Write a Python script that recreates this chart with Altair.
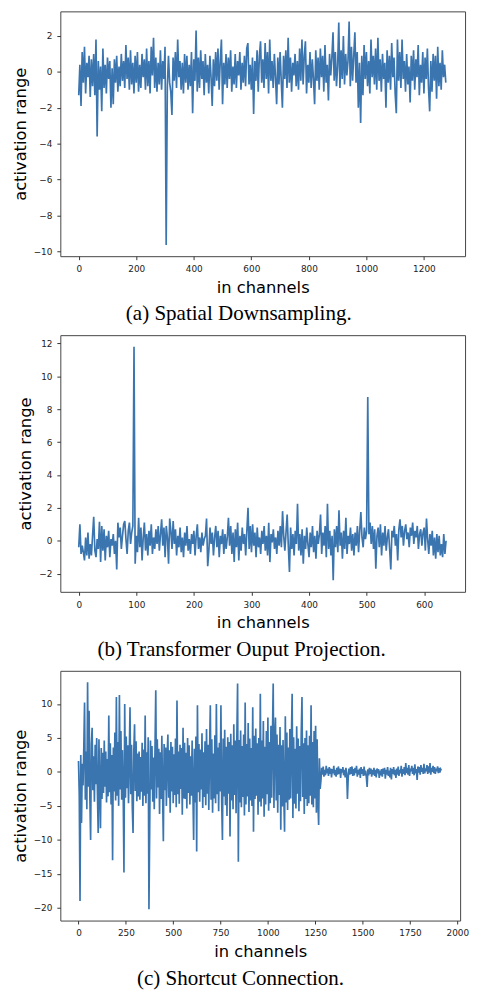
import altair as alt
import pandas as pd

LINE = "#3b75af"

# (a) Spatial Downsampling: one value every 4 channels (0..1276)
a_step = 4
a_vals = [
    -1.3, 0.4, -1.9, 1.1, -0.6, 1.4, -1.2, 0.5, -0.3, 0.9,
    -1.4, 0.7, -0.8, 1.0, -1.3, 1.8, -3.6, 0.6, -1.0, 0.3,
    -2.2, 1.3, -0.9, 0.4, -1.2, 0.8, -0.4, 0.6, -2.0, 0.2,
    -1.8, 0.7, -0.6, 0.9, -1.1, 0.3, -0.8, 1.0, -0.5, 0.6,
    -0.9, 1.5, -0.4, 0.8, -1.0, 1.2, -0.7, 0.5, -1.2, 0.9,
    -0.6, 1.1, -1.1, 0.4, -0.9, 1.0, -0.3, 0.7, -1.0, 1.3,
    -0.8, 0.6, -1.2, 1.4, -0.2, 1.9, -0.9, 0.8, -1.1, 0.5,
    -0.7, 1.2, -1.0, 0.6, -0.4, 1.4, -9.65, -0.8, 0.9, -0.6,
    -1.1, -2.4, 0.8, -0.5, 1.1, -0.9, 1.8, -0.3, 0.6, -1.0,
    0.5, -1.2, 1.0, -0.6, 0.9, -1.0, 0.4, -0.8, 1.1, -2.3,
    0.7, -0.5, 2.3, -1.1, 0.8, -0.9, 1.2, -0.4, 0.6, -1.3,
    1.0, -0.6, 0.4, -1.2, 0.9, -0.3, -1.9, 0.7, -0.8, 1.1,
    -0.5, 1.3, -1.0, 0.6, 1.8, -1.8, 0.5, -0.7, 1.0, -0.9,
    0.8, -0.4, 1.2, -1.1, 0.3, -0.7, 1.0, -0.9, 0.6, -0.2,
    1.1, -1.0, 0.5, -0.6, 0.9, -0.8, 1.3, 1.6, -0.7, 0.4,
    -1.0, 0.8, -2.35, 0.6, -0.5, 1.2, -1.1, 0.9, 1.7, -0.6,
    0.7, -0.9, 1.6, -0.4, 1.1, -1.2, 1.8, -0.5, 0.6, -0.9,
    1.0, -0.3, -1.8, 0.8, -0.7, 1.1, -0.5, -2.0, 0.9, -0.4,
    1.2, -0.9, 1.9, -0.6, 0.8, -1.1, 0.5, -0.2, 1.0, -0.8,
    0.6, -1.0, 1.3, -0.5, 1.8, -0.7, 0.9, 1.7, -1.2, 0.4,
    -0.6, 1.1, -0.9, 0.7, -0.4, -1.8, 1.2, -0.5, 0.8, -1.0,
    1.3, -0.3, 0.9, -1.1, 1.5, -0.6, 0.4, -1.6, 1.0, -0.2,
    0.8, 2.2, -0.5, 1.1, -0.8, 0.3, 2.75, -0.9, 1.2, -0.4,
    2.0, -0.7, 1.0, -0.2, 0.6, 2.8, -0.8, 1.4, -0.5, 0.9,
    2.2, -0.6, 1.1, -2.0, 0.5, -2.85, 0.9, -1.3, 1.5, -0.4,
    1.1, -0.8, 0.6, -1.2, 1.8, -0.3, 0.9, -0.7, 1.3, -1.0,
    1.9, -0.5, 0.7, -1.1, 1.0, -0.4, 0.5, -2.0, 1.2, -0.6,
    0.9, -1.0, 1.6, -0.3, 0.8, -1.2, -2.3, 1.8, -0.5, 1.1,
    -0.9, 1.8, -0.4, 0.6, -1.1, 1.0, -0.7, 0.3, -1.7, 0.9,
    -0.5, 1.2, -1.0, 0.7, -0.3, 1.5, -1.3, 0.4, -0.6, 1.1,
    -1.2, 0.8, -0.4, 1.3, -0.9, -2.2, 0.6, -1.1, 1.0, -0.5,
    0.9, -1.5, 1.4, -0.8, 0.5, -1.0, 1.2, -0.3, 0.4, -0.6,
]

# (b) Transformer Output Projection: one value every 2 channels (0..638)
b_step = 2
b_vals = [
    -0.4, 1.0, -0.8, -0.3, -0.7, -1.2, 0.2, -0.9, 0.5, -1.1,
    -0.2, -0.9, 0.3, 1.45, -0.6, -1.0, 0.1, -0.5, 1.15, -1.3,
    0.9, -0.6, 0.7, -1.2, 0.3, -0.4, 0.6, -1.0, 0.1, -0.3,
    0.4, -0.8, 0.0, -1.75, 1.1, 0.2, 0.8, -0.5, 0.3, 1.0,
    1.2, 0.1, -0.8, 0.6, 1.1, -0.2, 0.5, 0.9, 11.8, -1.4,
    0.3, -0.7, 1.4, -0.4, 0.8, -1.2, 0.2, 1.1, -0.6, 0.4,
    -0.9, 0.6, -0.3, 1.0, -0.8, 0.2, -0.5, 0.7, -0.2, 0.9,
    -0.6, 0.4, 1.3, -0.3, 0.8, -1.0, 0.9, 0.2, -1.4, 1.35,
    0.6, -0.5, 1.2, -0.2, 0.7, -0.9, 0.3, -0.4, 0.8, -0.7,
    0.2, -1.0, 0.5, -0.3, 0.9, -0.6, 0.1, -0.8, 0.4, -0.2,
    0.6, -0.9, 0.3, 1.0, -0.5, 0.2, -0.7, 0.5, -0.3, 0.1,
    0.3, 1.35, -1.55, -0.6, 0.8, -0.2, 0.5, -0.9, 0.2, 0.9,
    -0.4, 0.6, -1.0, 0.3, -0.2, 0.7, -0.8, 0.4, -0.5, 0.2,
    1.4, -0.3, 0.9, -0.8, 0.5, -1.3, 0.7, -0.4, 1.1, -1.2,
    0.3, -0.6, 0.8, -0.2, 0.4, -0.9, 0.6, 2.0, -0.5, 0.9,
    -0.7, 1.0, -0.3, 0.5, -1.0, 0.8, -0.4, 0.2, -0.8, 0.6,
    -0.2, 0.9, -0.6, 0.3, -0.9, 1.1, -1.3, 0.4, -0.1, 0.7,
    -0.5, 0.2, -0.8, 0.6, -0.3, 0.9, -0.4, 1.8, 0.3, -0.6,
    0.5, 1.6, -0.3, -1.9, 0.8, -0.5, 0.4, -0.9, 0.6, -0.2,
    2.25, -0.6, 0.4, -0.9, 0.7, -1.4, 0.3, -0.5, 0.8, -0.2,
    -1.0, 0.5, -0.4, 0.9, -0.7, 0.3, -1.1, 0.6, -0.2, 0.4,
    1.6, -0.8, 0.5, -0.3, 0.9, -1.0, 2.25, -0.5, 0.6, -0.9,
    0.3, -2.4, 0.7, -0.4, 0.9, -0.7, 1.85, -0.3, 0.5, -1.1,
    0.6, -0.5, 1.4, -0.8, 0.3, -0.2, 0.8, -0.6, 0.4, -0.9,
    0.5, -0.3, 0.9, -0.7, 0.6, 1.75, 0.2, -0.4, 0.8, 0.1,
    0.6, 8.75, 0.4, 1.1, -0.2, 0.9, -0.5, 0.7, -1.7, 0.3,
    0.8, -0.4, 1.0, -0.9, 0.5, -0.3, 0.9, -0.6, 0.2, 0.7,
    -0.5, -1.75, 0.6, 0.2, 0.9, -0.3, 0.4, -1.2, 0.7, 1.3,
    0.2, 0.9, -0.3, 0.6, 1.0, 0.1, 0.5, -0.4, 0.8, 0.3,
    1.1, -0.2, 0.6, 0.2, 0.9, -0.5, 0.4, 0.7, -0.3, 0.5,
    0.8, -0.6, 1.35, 0.1, -0.8, 0.4, -0.3, 0.6, -0.9, 0.2,
    -1.1, 0.4, -0.7, 0.3, -0.9, -0.2, -1.0, 0.4, -0.8, 0.0,
]

# (c) Shortcut Connection: one value every 4 channels (0..1916)
c_step = 4
c_vals = [
    1.6, -3.4, -19.0, 2.5, -7.5, 1.2, -2.0, 3.6, 10.2, -4.1,
    3.0, -5.5, 13.2, -2.2, 9.0, -3.8, -10.0, 4.1, 6.5, -2.7,
    2.3, -4.4, 4.0, -1.8, 5.0, -3.2, -9.0, 4.8, -2.5, -8.3,
    3.5, -4.0, 2.8, -3.1, 4.6, -2.2, 3.0, -4.5, 1.9, -3.6,
    8.3, -3.0, 4.2, -4.8, 2.5, -13.0, 3.6, -2.9, 5.8, -4.2,
    11.0, -3.5, 4.4, -5.0, 11.3, -2.6, 6.0, -4.1, 3.2, -3.0,
    -14.8, 10.0, -3.8, 5.2, -2.4, 3.9, -4.6, 2.2, 9.5, -3.3,
    4.0, -5.2, -9.0, 3.1, 7.0, -2.8, 4.5, -4.3, 2.7, -3.6,
    3.0, -4.1, 2.2, -2.9, 4.3, -5.0, 3.3, -3.5, 8.3, -4.6,
    2.9, -3.2, 5.1, -20.2, -8.0, 4.6, -2.6, 3.8, -4.4, 2.1,
    -5.5, 3.6, 12.0, -3.9, 4.8, -2.3, 3.4, -6.2, 2.9, -4.0,
    5.3, -3.1, -10.2, 4.1, -2.7, 3.6, -5.0, 2.4, 5.5, -3.8,
    3.2, -6.0, 4.4, -2.9, 3.7, -4.6, 2.6, -3.4, 4.9, -5.2,
    10.5, -3.3, 3.0, -4.7, 4.0, -2.5, 3.5, -6.3, 6.5, -3.9,
    4.3, -4.0, 2.8, -5.4, 5.0, -3.1, 3.9, -4.8, 2.3, -3.5,
    4.6, -2.8, -10.0, 3.4, -4.5, 5.2, -11.7, 9.8, -3.0, 4.1,
    -4.4, 3.3, -2.6, 5.7, -5.3, 2.9, -3.7, 4.5, -4.9, 6.3,
    -3.2, 4.0, -5.6, 3.1, 9.8, -4.1, 4.8, -6.0, 2.7, -3.9,
    5.4, -4.6, 10.0, -3.3, 3.6, -5.8, 4.3, -2.9, 9.8, -4.4,
    -10.0, 4.9, -3.6, 6.2, -4.9, 3.7, -6.5, 5.1, -3.2, 4.4,
    -9.5, 5.6, -4.2, 3.9, -5.5, 7.0, -3.4, 4.6, -6.1, 5.0,
    13.0, -13.2, 4.7, -4.5, 6.1, -5.2, 3.8, -3.7, 5.5, -6.4,
    10.2, -4.8, 4.1, -3.6, 7.2, -5.9, 4.9, -4.2, 3.5, -5.0,
    9.5, -8.8, 5.3, -4.0, 6.4, -3.5, 4.2, -6.3, 5.0, -4.4,
    11.5, -5.1, 4.6, -3.9, 7.5, -6.6, 3.7, -4.8, 6.0, -3.3,
    8.0, -5.7, 4.4, -4.6, 6.8, -3.8, 5.2, 13.0, -5.3, 4.9,
    8.0, -4.2, 5.5, -6.0, 4.0, -3.4, 6.6, -8.5, 3.9, -5.1,
    4.7, -3.6, -8.8, 8.2, -4.5, 5.8, -5.6, 3.6, -4.1, 6.3,
    -3.9, 4.5, 11.5, -6.8, 5.1, -4.7, 3.4, -5.4, 6.7, -3.2,
    4.9, -5.8, 3.8, -4.3, 5.6, 11.0, -3.7, 4.2, -6.2, 5.0,
    -4.0, 6.1, -5.0, 3.9, -4.6, 5.3, -3.5, 9.8, -4.8, 4.4,
    -5.2, 6.0, -3.9, 6.8, -6.0, 4.8, -4.3, -7.8, 2.0, -2.5,
    -1.3, 0.6, -0.4, 0.8, -0.7, 0.3, -0.5, 0.9, -0.2, 0.5,
    -0.6, 0.7, -0.3, 0.5, -0.8, 0.4, -0.2, 0.9, -0.5, 0.3,
    -0.7, 0.6, -0.4, 0.8, -0.3, 0.5, -0.9, 0.4, -0.1, 0.7,
    -0.5, 0.3, -0.8, 0.6, -0.2, -4.0, -0.9, 0.5, -0.4, 0.7,
    -0.3, 0.8, -0.6, 0.4, -0.5, 0.6, -0.2, 0.9, -0.7, 0.3,
    -0.4, 0.5, -0.9, 0.7, -0.3, 0.4, -0.6, 0.8, -0.5, 0.2,
    -0.8, -2.2, 0.4, -0.5, 0.6, -0.3, 0.5, -0.7, 0.3, -0.4,
    0.6, -0.6, 0.3, -0.8, 0.5, -0.2, 0.4, -0.9, 0.2, -0.5,
    0.4, -0.7, 0.5, -0.3, 0.6, -1.0, 0.3, -0.4, 0.7, -0.6,
    0.2, -0.8, 0.6, -1.1, 0.4, -0.3, 0.7, -0.5, 0.3, -0.9,
    0.5, -0.4, 0.8, -0.6, 0.3, -0.2, 0.9, -0.7, 0.4, -0.3,
    0.7, -0.5, 1.3, -0.2, 0.6, -0.4, 1.0, -0.6, 0.5, 0.1,
    0.9, -0.3, 0.6, -0.5, 1.1, -0.2, 0.4, -1.2, 0.8, -0.1,
    0.7, -0.4, 1.0, 0.0, 0.6, -0.3, 1.2, -0.2, 0.5, 0.1,
    1.0, -0.3, 0.8, -0.1, 1.3, -0.4, 0.6, 0.0, 0.9, -0.2,
    0.7, -0.3, 0.5, 0.1, 0.8, -0.2, 0.6, -0.1, 0.4, 0.2,
]

a_xticks = [0, 200, 400, 600, 800, 1000, 1200]
a_yticks = [-10, -8, -6, -4, -2, 0, 2]
b_xticks = [0, 100, 200, 300, 400, 500, 600]
b_yticks = [-2, 0, 2, 4, 6, 8, 10, 12]
c_xticks = [0, 250, 500, 750, 1000, 1250, 1500, 1750, 2000]
c_yticks = [-20, -15, -10, -5, 0, 5, 10]

captions = ["(a) Spatial Downsampling.", "(b) Transformer Ouput Projection.", "(c) Shortcut Connection."]


def panel(vals, step, xdom, ydom, xticks, yticks, w, h, caption):
    df = pd.DataFrame({"ch": [i * step for i in range(len(vals))], "v": vals})
    return (
        alt.Chart(
            df,
            title=alt.Title(
                caption,
                orient="bottom",
                anchor="middle",
                frame="bounds",
                font="Liberation Serif",
                fontSize=21.3,
                fontWeight="normal",
                color="#000000",
                offset=8,
            ),
        )
        .mark_line(color=LINE, strokeWidth=1.7)
        .encode(
            x=alt.X(
                "ch:Q",
                scale=alt.Scale(domain=xdom, nice=False, zero=False),
                axis=alt.Axis(values=xticks, format="d", title="in channels"),
            ),
            y=alt.Y(
                "v:Q",
                scale=alt.Scale(domain=ydom, nice=False, zero=False),
                axis=alt.Axis(values=yticks, format="d", title="activation range"),
            ),
        )
        .properties(width=w, height=h)
    )


pa = panel(a_vals, a_step, [-64, 1343], [-10.27, 3.37], a_xticks, a_yticks, 410, 248, captions[0])
pb = panel(b_vals, b_step, [-32, 671], [-3.11, 12.51], b_xticks, b_yticks, 410, 260, captions[1])
pc = panel(c_vals, c_step, [-96, 2015], [-21.87, 14.87], c_xticks, c_yticks, 405, 253, captions[2])

chart = (
    alt.vconcat(pa, pb, pc, spacing=9)
    .properties(padding={"left": 4, "top": -4, "right": 0, "bottom": 0}, background="white")
    .configure_view(stroke="#444444", strokeWidth=1)
    .configure_axis(
        grid=False,
        domain=False,
        ticks=True,
        tickSize=3.5,
        tickColor="#333333",
        labelFont="DejaVu Sans",
        labelFontSize=9,
        labelColor="#222222",
        labelPadding=5,
        titleFont="DejaVu Sans",
        titleFontSize=16.5,
        titleFontWeight="normal",
        titleColor="#000000",
    )
    .configure_axisX(titlePadding=6)
    .configure_axisY(titlePadding=5)
)

chart.save("out.html", embed_options={"renderer": "svg", "actions": False})
